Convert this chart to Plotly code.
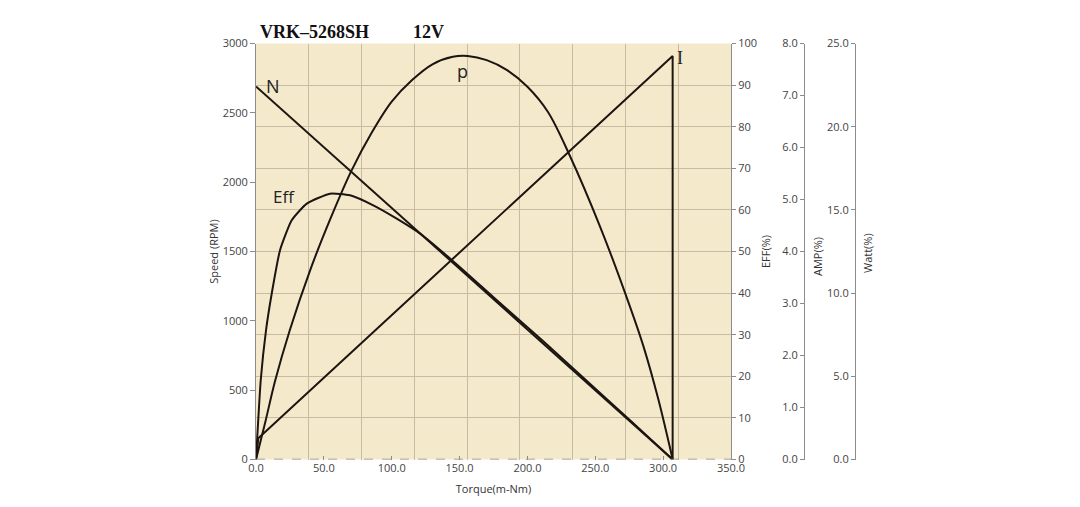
import plotly.graph_objects as go

# ----------------------------------- Data -----------------------------------
# Speed curve N (RPM vs torque)
torque_n = [0, 307]
speed_n = [2690, 0]

# Efficiency curve Eff (%)
torque_eff = [0, 3.5, 7.4, 11.6, 17.7, 26.3, 37.4, 54.5, 69.3, 86.4, 103.7, 120.9,
              143, 175, 211.7, 240, 275, 307]
eff = [0, 19.1, 31.1, 39.9, 50.3, 57.5, 61.5, 63.9, 63.5, 61.1, 57.9, 54.3,
       48.3, 39.0, 28.4, 20.0, 9.6, 0]

# Current curve I (A)
torque_i = [0, 1.7, 307, 307]
amp_i = [0, 0.41, 7.76, 0]

# Output power curve p (W)
torque_p = [0, 7, 14, 25, 40, 55, 70, 85, 100, 115, 130, 145, 156, 170, 185, 200,
            215, 231, 253.5, 272, 285.5, 296.5, 307]
watt_p = [0, 2.3, 4.7, 7.8, 11.4, 14.5, 17.3, 19.6, 21.5, 22.8, 23.75, 24.2, 24.25,
          24.0, 23.4, 22.4, 20.9, 18.3, 14.0, 10.0, 6.8, 3.6, 0]

x_ticks = [0, 50, 100, 150, 200, 250, 300, 350]

# ----------------------------------- Style -----------------------------------
LINE = "#1c1511"
AXIS = "#8c8c8c"
GRID = "#c6bca4"
TXT = "#444444"
FONT = "Open Sans"

# page body has an 8px margin, so the figure is 1064x491 placed at (8, 8)
W, H = 1064, 491


def px(x):
    return (x - 8) / W


def py(y):
    return 1 - (y - 8) / H


dom_x = [px(256), px(731)]
dom_y = [py(459.5), py(43.5)]

fig = go.Figure()

fig.add_trace(go.Scatter(x=torque_n, y=speed_n, mode="lines",
                         line=dict(color=LINE, width=2), xaxis="x", yaxis="y"))
fig.add_trace(go.Scatter(x=torque_eff, y=eff, mode="lines",
                         line=dict(color=LINE, width=2, shape="spline", smoothing=0.5),
                         xaxis="x", yaxis="y2"))
fig.add_trace(go.Scatter(x=torque_i, y=amp_i, mode="lines",
                         line=dict(color=LINE, width=2), xaxis="x", yaxis="y3"))
fig.add_trace(go.Scatter(x=torque_p, y=watt_p, mode="lines",
                         line=dict(color=LINE, width=2, shape="spline", smoothing=1.0),
                         xaxis="x", yaxis="y4"))
# empty trace so the grid-only x axis gets drawn
fig.add_trace(go.Scatter(x=[], y=[], xaxis="x2", yaxis="y", hoverinfo="skip"))

tickfont = dict(family=FONT, size=11, color=TXT)
titlefont = dict(family=FONT, size=11, color="#333333")

fig.update_layout(
    width=W, height=H,
    margin=dict(l=0, r=0, t=0, b=0),
    paper_bgcolor="white",
    plot_bgcolor="#f5e9cc",
    showlegend=False,
    xaxis=dict(
        domain=dom_x, range=[0, 350], tickvals=x_ticks,
        ticktext=["%.1f" % v for v in x_ticks],
        showgrid=False, zeroline=False, showline=False,
        ticks="inside", ticklen=4, tickcolor=AXIS,
        tickfont=tickfont, automargin=False,
        title=dict(text="Torque(m-Nm)", font=titlefont, standoff=11),
    ),
    # grid-only axis for the 9 vertical divisions
    xaxis2=dict(
        overlaying="x", anchor="y", domain=dom_x, range=[0, 9], dtick=1,
        showgrid=True, gridcolor=GRID, gridwidth=1, zeroline=False,
        showticklabels=False, ticks="", showline=False,
    ),
    yaxis=dict(
        domain=dom_y, range=[0, 3000], dtick=500,
        showgrid=False, zeroline=False,
        showline=True, linecolor=AXIS, linewidth=1,
        ticks="outside", ticklen=5, tickcolor=AXIS,
        tickfont=tickfont, automargin=False,
        title=dict(text="Speed (RPM)", font=titlefont, standoff=1),
    ),
    yaxis2=dict(
        overlaying="y", side="right", anchor="x", range=[0, 100], dtick=10,
        showgrid=True, gridcolor=GRID, gridwidth=1, zeroline=False,
        showline=True, linecolor=AXIS, linewidth=1,
        ticks="outside", ticklen=4, tickcolor=AXIS,
        tickfont=tickfont, automargin=False,
        title=dict(text="EFF(%)", font=titlefont, standoff=6),
    ),
    yaxis3=dict(
        overlaying="y", side="left", anchor="free", position=px(804),
        range=[0, 8], dtick=1, tickformat=".1f",
        showgrid=False, zeroline=False,
        showline=True, linecolor=AXIS, linewidth=1,
        ticks="outside", ticklen=4, tickcolor=AXIS,
        tickfont=tickfont, automargin=False,
    ),
    yaxis4=dict(
        overlaying="y", side="left", anchor="free", position=px(855),
        range=[0, 25], dtick=5, tickformat=".1f",
        showgrid=False, zeroline=False,
        showline=True, linecolor=AXIS, linewidth=1,
        ticks="outside", ticklen=4, tickcolor=AXIS,
        tickfont=tickfont, automargin=False,
    ),
)

# dashed bottom axis line
fig.add_shape(type="line", xref="x domain", yref="y", x0=0, x1=1, y0=0, y1=0,
              line=dict(color=AXIS, width=1.5, dash="dash"))

# titles of the two free axes (to the right of their lines)
fig.add_annotation(text="AMP(%)", x=px(818), y=py(257), xref="paper", yref="paper",
                   xanchor="center", yanchor="middle",
                   textangle=-90, showarrow=False, font=titlefont)
fig.add_annotation(text="Watt(%)", x=px(867), y=py(253), xref="paper", yref="paper",
                   xanchor="center", yanchor="middle",
                   textangle=-90, showarrow=False, font=titlefont)

# curve labels and title
fig.add_annotation(text="N", x=12.5, y=2690, xref="x", yref="y", showarrow=False,
                   font=dict(family=FONT, size=18, color="#222222"))
fig.add_annotation(text="p", x=152, y=2805, xref="x", yref="y", showarrow=False,
                   font=dict(family=FONT, size=18, color="#222222"))
fig.add_annotation(text="Eff", x=20.6, y=1898, xref="x", yref="y", showarrow=False,
                   font=dict(family=FONT, size=17, color="#222222"))
fig.add_annotation(text="I", x=312.5, y=2899, xref="x", yref="y", showarrow=False,
                   font=dict(family="Liberation Serif", size=18, color="#222222"))
fig.add_annotation(text="<b>VRK\u20135268SH</b>", x=px(258), y=py(32),
                   xref="paper", yref="paper", xanchor="left", yanchor="middle",
                   showarrow=False,
                   font=dict(family="Liberation Serif", size=18, color="#111111"))
fig.add_annotation(text="<b>12V</b>", x=px(411), y=py(32),
                   xref="paper", yref="paper", xanchor="left", yanchor="middle",
                   showarrow=False,
                   font=dict(family="Liberation Serif", size=18, color="#111111"))

fig.write_html("out.html")
